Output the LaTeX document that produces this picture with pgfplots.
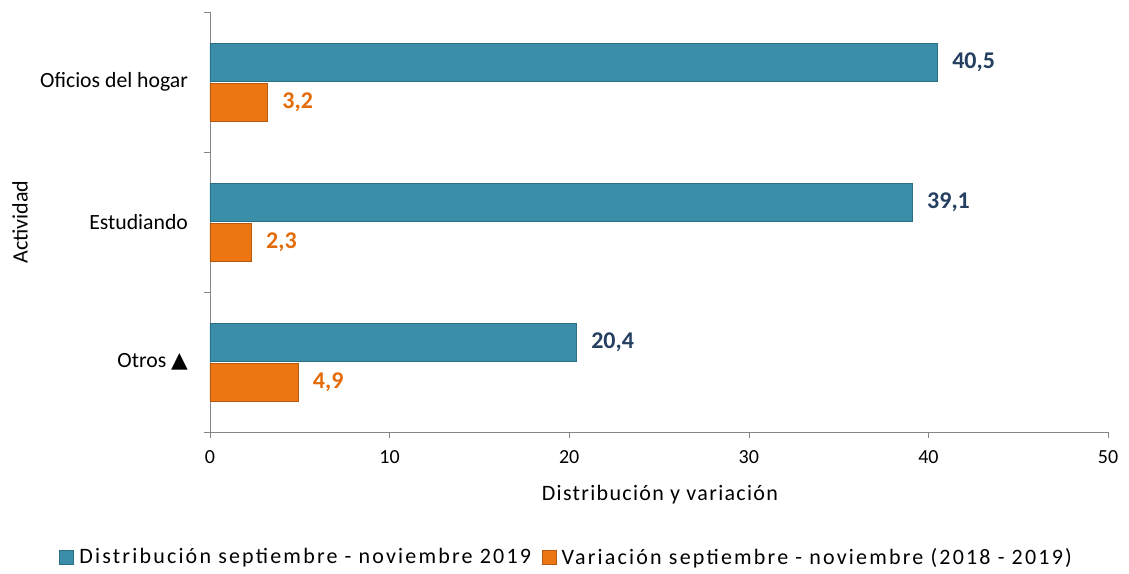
\documentclass[border=0pt]{standalone}
\usepackage{fontspec}
\setmainfont{Carlito}
\newfontfamily\dejavu{DejaVu Sans}
\newfontfamily\legfont[LetterSpace=10]{Carlito}
\newfontfamily\xlabfont[LetterSpace=6]{Carlito}
\usepackage{pgfplots}
\pgfplotsset{compat=1.18}
\definecolor{tealA}{HTML}{3A8EA7}
\definecolor{tealD}{HTML}{2A6F83}
\definecolor{orA}{HTML}{EE7612}
\definecolor{orD}{HTML}{B35A10}
\definecolor{navy}{HTML}{243F60}
\definecolor{orT}{HTML}{E36C09}
\definecolor{axgray}{HTML}{868686}
\begin{document}
\begin{tikzpicture}[x=0.75pt,y=0.75pt]
\useasboundingbox (-210,-142) rectangle (919,432);
\begin{axis}[
  at={(0,0)}, anchor=south west,
  scale only axis, width=673.5pt, height=315pt,
  xmin=0, xmax=50, ymin=-0.5, ymax=2.5,
  xbar, bar width=0.27,
  axis lines=left, axis line style={-, draw=axgray},
  tick style={draw=axgray},
  tick align=outside, major tick length=4.5pt,
  xtick={0,10,20,30,40,50},
  ytick={-0.5,0.5,1.5,2.5}, yticklabels={},
  extra y ticks={0,1,2},
  extra y tick labels={Otros {\dejavu ▲}, Estudiando, Oficios del hogar},
  extra y tick style={major tick length=0pt},
  /pgf/number format/assume math mode=true,
  tick label style={font=\fontsize{15}{18}\selectfont},
  y tick label style={xshift=-13pt, font=\fontsize{16.3}{19}\selectfont},
  x tick label style={yshift=-6pt},
  xlabel={\xlabfont Distribución y variación},
  ylabel={Actividad},
  label style={font=\fontsize{16.5}{19}\selectfont},
  xlabel style={at={(axis description cs:0.501,-0.148)}, anchor=center},
  ylabel style={at={(axis description cs:-0.2116,0.5)}, anchor=center, rotate=0},
  legend style={at={(0.399,-0.298)}, anchor=center, draw=none,
    font=\fontsize{16.5}{19}\selectfont\legfont, legend columns=2,
    nodes={inner xsep=4pt},
    /tikz/every even column/.append style={column sep=4pt}},
  legend image code/.code={\draw[#1] (0pt,-5pt) rectangle (10.5pt,5.5pt);},
  nodes near coords={\pgfmathprintnumber[use comma,fixed,fixed zerofill,precision=1]{\pgfplotspointmeta}},
  point meta=x,
  clip=false,
]
\addplot[draw=tealD, fill=tealA, bar shift=0.143,
  every node near coord/.append style={text=navy, font=\fontsize{18}{21}\selectfont\bfseries, anchor=west, inner xsep=0pt, xshift=11pt}]
  coordinates {(20.4,0) (39.1,1) (40.5,2)};
\addlegendentry{Distribución septiembre - noviembre 2019}
\addplot[draw=orD, fill=orA, bar shift=-0.143,
  every node near coord/.append style={text=orT, font=\fontsize{18}{21}\selectfont\bfseries, anchor=west, inner xsep=0pt, xshift=11pt}]
  coordinates {(4.9,0) (2.3,1) (3.2,2)};
\addlegendentry{Variación septiembre - noviembre (2018 - 2019)}
\end{axis}
\end{tikzpicture}
\end{document}
